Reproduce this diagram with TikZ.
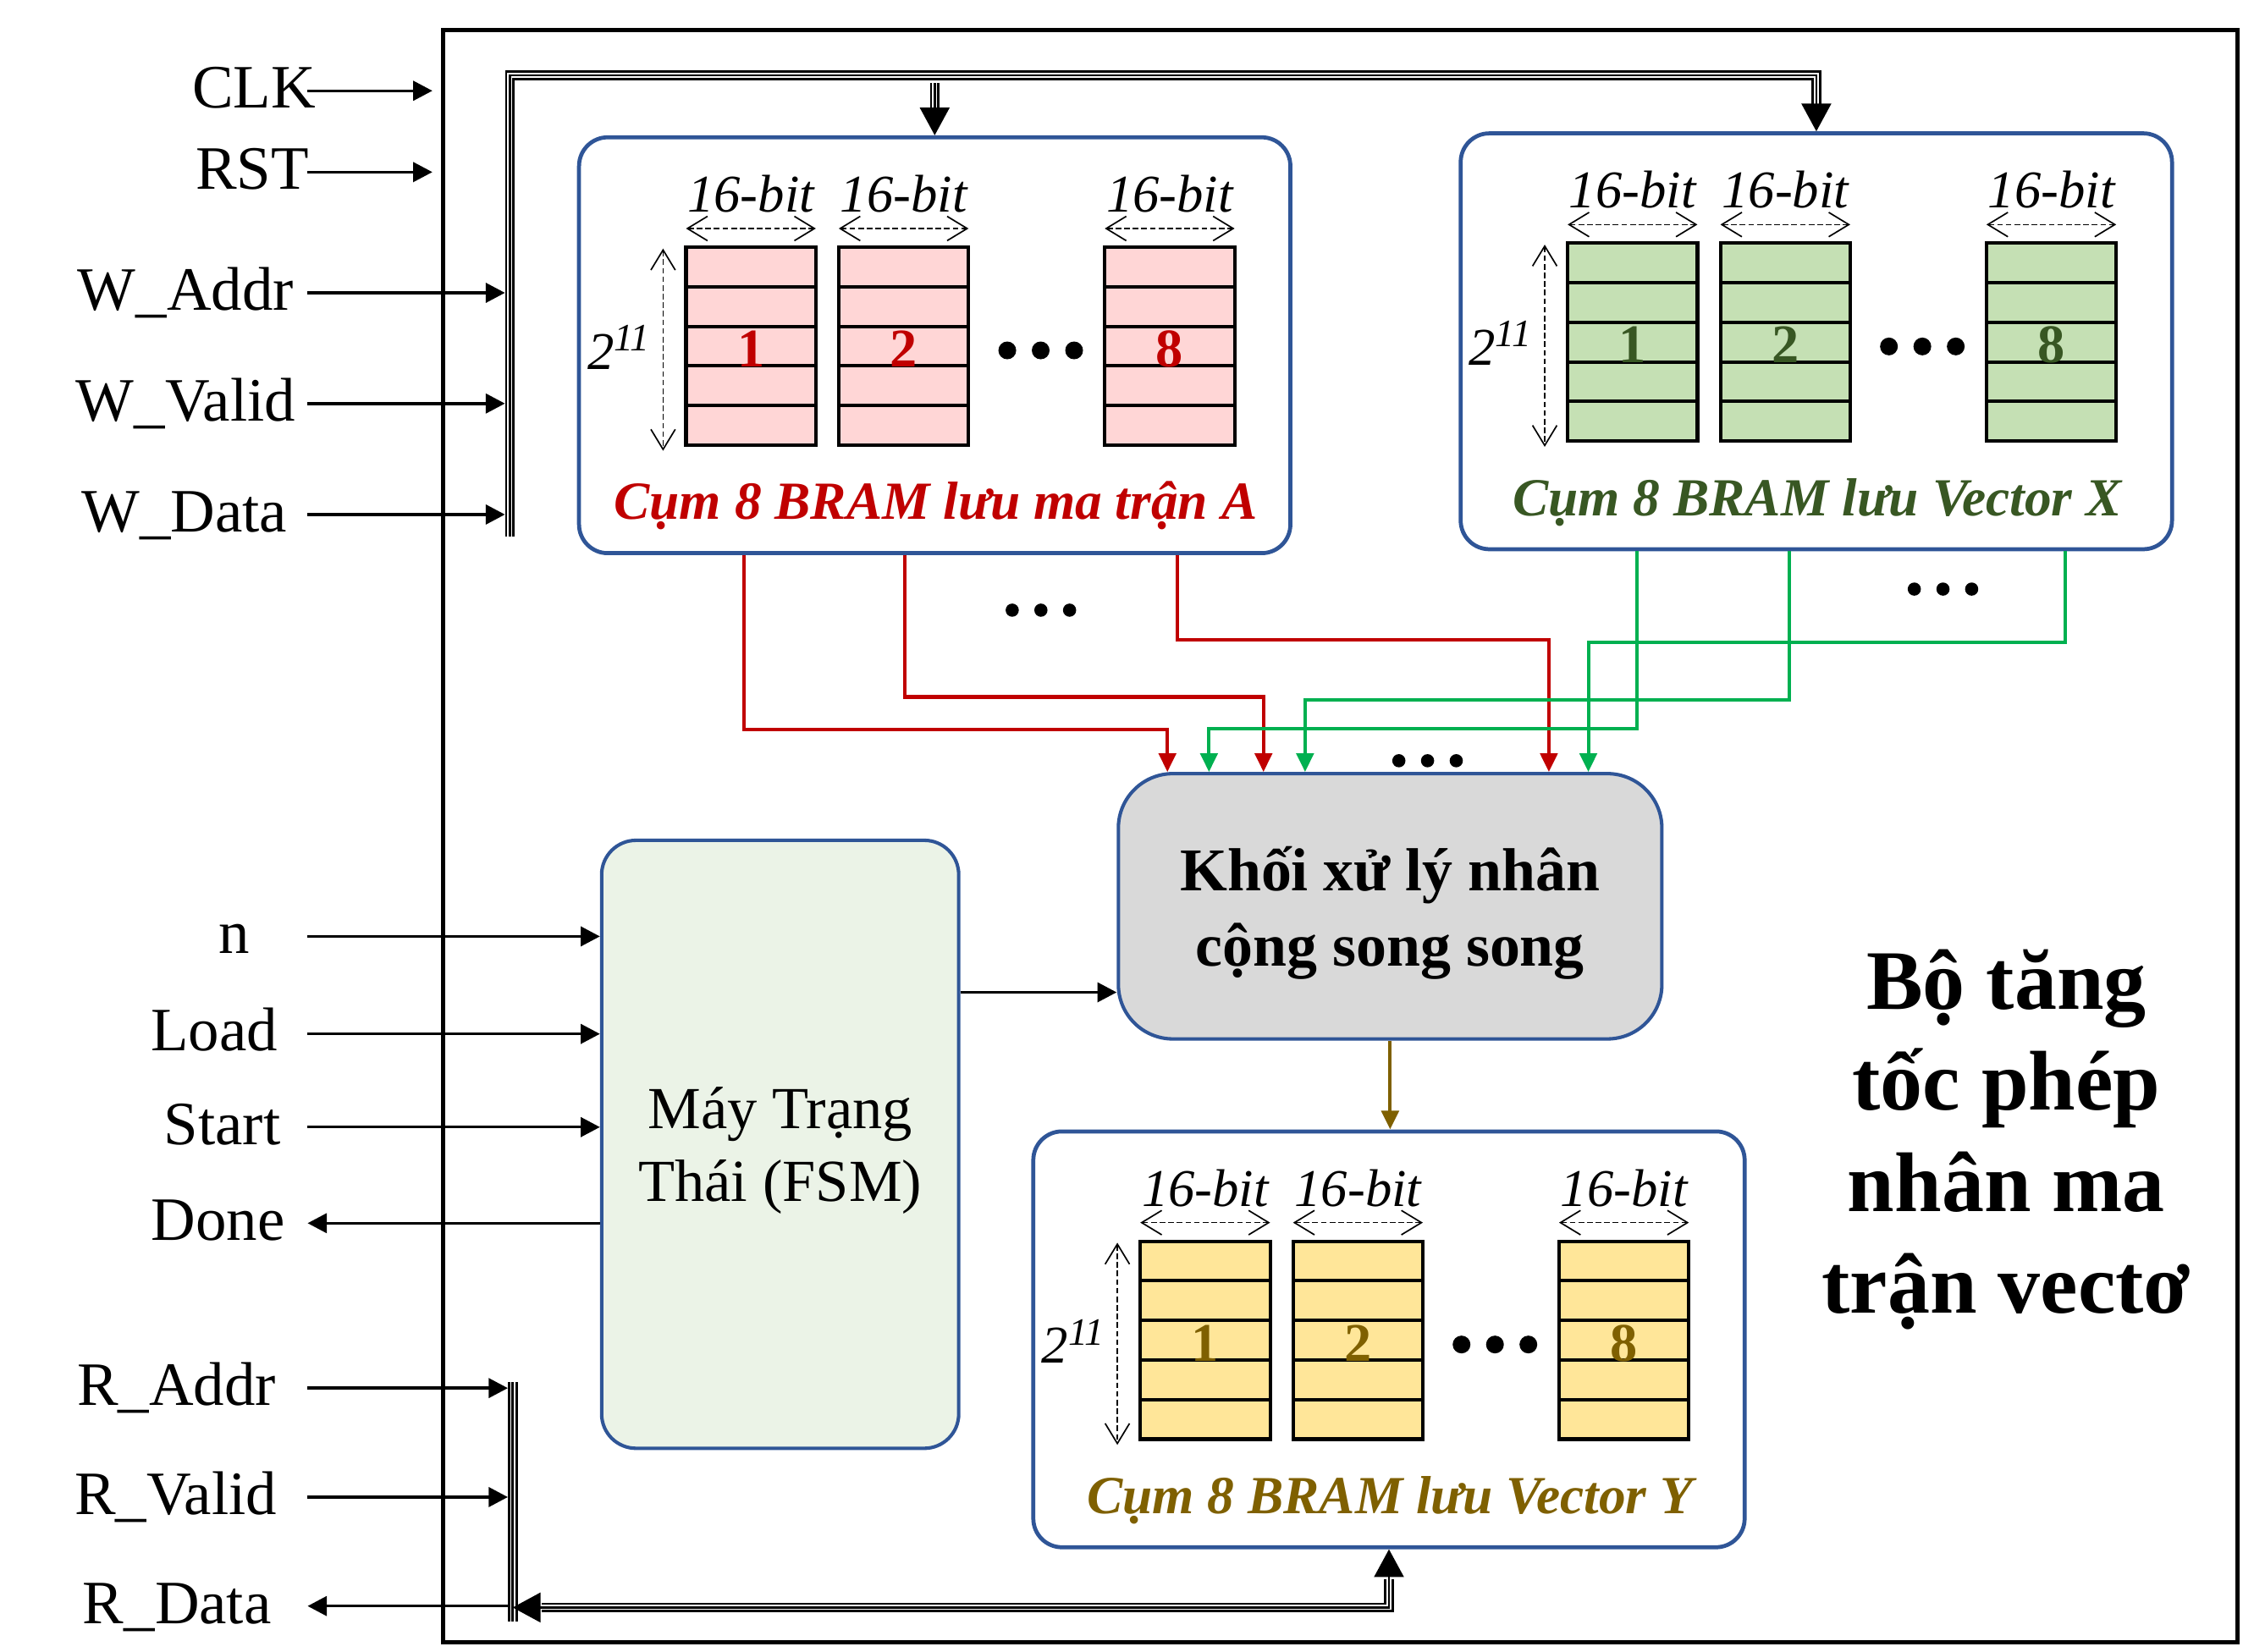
\documentclass[tikz,border=0pt]{standalone}
\usepackage{fontspec}
\setmainfont{Liberation Serif}
\usetikzlibrary{arrows.meta}

\definecolor{boxblue}{RGB}{47,85,151}
\definecolor{pinkcell}{RGB}{255,214,214}
\definecolor{greencell}{RGB}{197,224,180}
\definecolor{yellowcell}{RGB}{255,230,153}
\definecolor{procgray}{RGB}{217,217,217}
\definecolor{fsmgreen}{RGB}{235,243,231}
\definecolor{wirered}{RGB}{192,0,0}
\definecolor{wiregreen}{RGB}{0,176,80}
\definecolor{textgreen}{RGB}{56,87,35}
\definecolor{textolive}{RGB}{127,96,0}

\begin{document}
\begin{tikzpicture}[
             x                = 0.5pt,
             y                = -0.5pt,
             frame/.style     = {draw, line width=1.5pt, minimum width=625.5pt, minimum height=562.4pt, inner sep=0pt},
             cluster/.style   = {draw=boxblue, line width=1.4pt, rounded corners=10pt, minimum width=248pt, minimum height=145pt, inner sep=0pt},
             proc/.style      = {draw=boxblue, line width=1.2pt, fill=procgray, rounded corners=19pt, minimum width=189.5pt, minimum height=92.5pt, align=center, text depth=0pt, font=\fontsize{21.2}{26.4}\selectfont\bfseries},
             fsm/.style       = {draw=boxblue, line width=1.2pt, fill=fsmgreen, rounded corners=12pt, minimum width=124.5pt, minimum height=212pt, align=center, text depth=0pt, font=\fontsize{20.8}{25.5}\selectfont},
             title/.style     = {align=center, font=\fontsize{29.5}{35.3}\selectfont\bfseries},
             sig lbl/.style   = {font=\fontsize{21.5}{24}\selectfont, text height=12pt, text depth=0pt, inner sep=0pt},
             sig/.style       = {line width=1pt, -{Triangle[length=6.7pt, width=6.8pt]}},
             bus/.style       = {line width=0.8pt, preaction={draw, line width=3.4pt}, preaction={draw, white, line width=1.8pt}},
             bus tip/.style   = {line width=0.8pt, -{Triangle[length=9.7pt, width=10.3pt]}},
             wire/.style      = {line width=1.2pt, -{Triangle[length=6.5pt, width=6pt]}},
             cell/.style      = {line width=1.2pt},
             span/.style      = {line width=0.5pt, dash pattern=on 2pt off 1pt, >={Straight Barb[length=7pt, width=8.5pt]}, <->},
             bit lbl/.style   = {font=\fontsize{18.5}{20}\selectfont\itshape, inner sep=0pt, anchor=base},
             num/.style       = {font=\fontsize{19}{20}\selectfont\bfseries, inner sep=0pt, anchor=base},
             cap lbl/.style   = {font=\fontsize{18.7}{20}\selectfont\bfseries\itshape, inner sep=0pt, anchor=base}]
  \fill[white] (0,0) rectangle (1564,1152);
  \useasboundingbox (0,0) rectangle (1564,1152);

  \node[frame] (acc) at (934.5,583.1) {};

  \foreach \nm/\cx/\cy/\cellfill/\txtcol/\captext in {
        A/651.75/240.75/pinkcell/wirered/{Cụm 8 BRAM lưu ma trận A},
        X/1266.5/238/greencell/textgreen/{Cụm 8 BRAM lưu Vector X},
        Y/968.5/934/yellowcell/textolive/{Cụm 8 BRAM lưu Vector Y}} {
    \node[cluster] (bram\nm) at (\cx,\cy) {};
    \begin{scope}[shift={(bram\nm.north west)}]
      \foreach \xo/\num in {76/1, 182.5/2, 368/8} {
        \filldraw[cell, fill=\cellfill] (\xo,78) rectangle ++(90.5,138);
        \foreach \r in {1,...,4}
          \draw[cell] (\xo,{78+27.6*\r}) -- ++(90.5,0);
        \draw[span] (\xo,65) -- ++(90.5,0);
        \node[bit lbl] at ({\xo+45.25},53.5) {16-bit};
        \node[num, text=\txtcol] at ({\xo+45.25},161.5) {\num};
      }
      \draw[span] (60,79) -- (60,220);
      \node[bit lbl] at (29,163) {2\raisebox{0.75ex}{\fontsize{13.5}{14}\selectfont 11}};
      \foreach \d in {-1,0,1}
        \fill ({323.3+23.3*\d},150) circle [radius=3.1pt];
      \node[cap lbl, text=\txtcol] at (250,268) {\captext};
    \end{scope}
  }

  \node[proc] (proc) at (969.3,632) {Khối xử lý nhân\\cộng song song};
  \node[fsm] (fsm) at (544,798) {Máy Trạng\\Thái (FSM)};
  \node[title] (ttl) at (1399,794.5) {Bộ tăng\\tốc phép\\nhân ma\\trận vectơ};

  \foreach \xs/\yh/\xe in {518.8/509/814, 631/486/881, 820.7/446/1080}
    \draw[wire, wirered] (bramA.south -| \xs,0) |- (\xe,\yh) -- (proc.north -| \xe,0);
  \foreach \xs/\yh/\xe in {1141.3/508/843, 1247.7/488/910, 1440/448/1107.5}
    \draw[wire, wiregreen] (bramX.south -| \xs,0) |- (\xe,\yh) -- (proc.north -| \xe,0);
  \foreach \dx/\dy in {725.8/425.5, 1354.8/410.8, 995.4/530.5}
    \foreach \d in {-1,0,1}
      \fill ({\dx+20*\d},\dy) circle [radius=2.3pt];
  \draw[wire, textolive] (proc.south) -- (proc.south |- bramY.north);
  \draw[sig] (fsm.east |- 0,692) -- (proc.west |- 0,692);

  \coordinate (pinL) at (214.5,0);
  \coordinate (wbus) at (355.5,52.5);
  \coordinate (wbusEnd) at (355.5,374);
  \coordinate (rbus) at (357.5,964);
  \coordinate (rbusEnd) at (357.5,1131);

  \foreach \nm/\txt/\lx/\ly in {clk/CLK/177/63.3, rst/RST/176/120} {
    \node[sig lbl] (\nm) at (\lx,\ly) {\txt};
    \draw[sig, shorten >=3pt] (\nm.east -| pinL) -- (\nm.east -| acc.west);
  }
  \foreach \nm/\txt/\lx/\ly in {waddr/W\_Addr/129.5/204.2, wvalid/W\_Valid/129.5/281.4, wdata/W\_Data/128.5/358.8} {
    \node[sig lbl] (\nm) at (\lx,\ly) {\txt};
    \draw[sig, shorten >=1.7pt] (\nm.east -| pinL) -- (\nm.east -| wbus);
  }
  \foreach \nm/\txt/\lx/\ly in {nin/n/163.5/653, load/Load/149.5/721, start/Start/155/786} {
    \node[sig lbl] (\nm) at (\lx,\ly) {\txt};
    \draw[sig] (\nm.east -| pinL) -- (\nm.east -| fsm.west);
  }
  \node[sig lbl] (done) at (152,853) {Done};
  \draw[sig] (done.east -| fsm.west) -- (done.east -| pinL);
  \foreach \nm/\txt/\lx/\ly in {raddr/R\_Addr/123/968, rvalid/R\_Valid/122.5/1044} {
    \node[sig lbl] (\nm) at (\lx,\ly) {\txt};
    \draw[sig, shorten >=1.7pt] (\nm.east -| pinL) -- (\nm.east -| rbus);
  }
  \node[sig lbl] (rdata) at (123.5,1120) {R\_Data};
  \draw[sig] (rdata.east -| rbus) -- (rdata.east -| pinL);

  \coordinate (tipA) at (bramA.north |- 0,75);
  \coordinate (tipX) at (bramX.north |- 0,72.5);
  \draw[bus] (wbusEnd) -- (wbus) -| (tipX);
  \draw[bus] (tipA |- 0,58) -- (tipA);
  \draw[bus tip] (tipA) -- (bramA.north);
  \draw[bus tip] (tipX) -- (bramX.north);

  \coordinate (tipR) at (378,1121);
  \coordinate (tipY) at (bramY.south |- 0,1101);
  \draw[bus] (rbus) -- (rbusEnd);
  \draw[bus] (tipR) -| (tipY);
  \draw[bus tip] (tipR) -- (rbus |- tipR);
  \draw[bus tip] (tipY) -- (bramY.south);
\end{tikzpicture}
\end{document}
